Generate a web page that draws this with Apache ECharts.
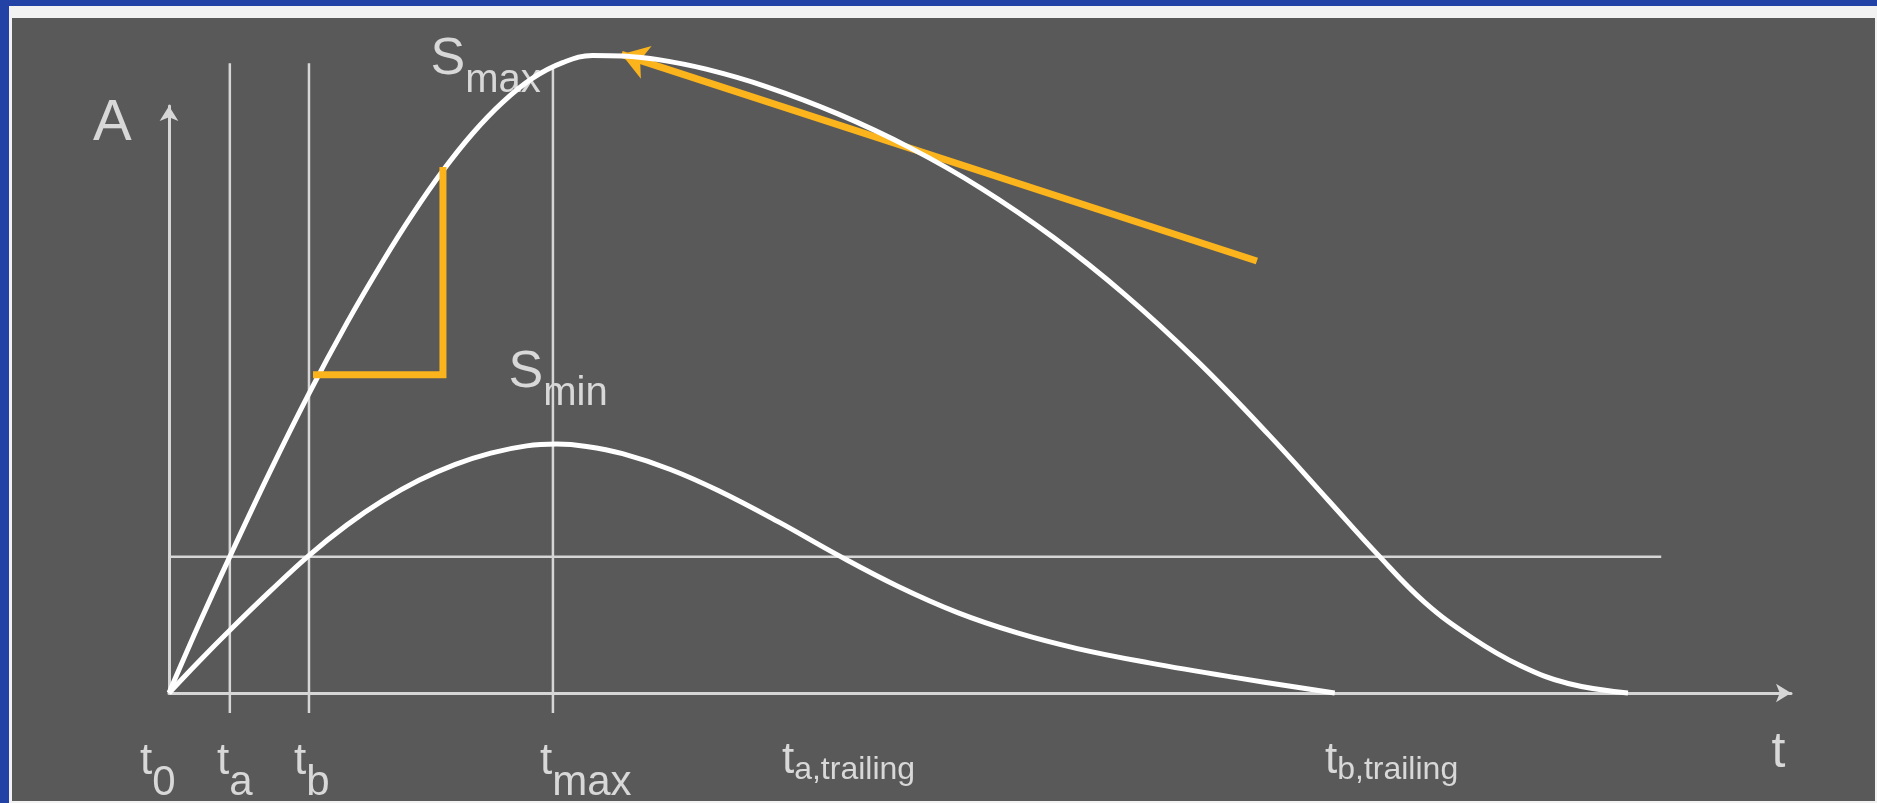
<!DOCTYPE html>
<html>
<head>
<meta charset="utf-8">
<title>Smax / Smin</title>
<script src="https://cdn.jsdelivr.net/npm/echarts@6/dist/echarts.min.js"></script>
<style>
  html, body { margin: 0; padding: 0; width: 1877px; height: 803px; overflow: hidden; background: #2242a6; }
  .sheet { position: absolute; left: 9px; top: 6px; right: 0; bottom: 0; background: #f2f2f2; }
  .panel { position: absolute; left: 12px; top: 18px; right: 2px; bottom: 2px; background: #595959; }
  #chart { position: absolute; left: 0; top: 0; width: 1877px; height: 803px; }
</style>
</head>
<body>
<div class="sheet"></div>
<div class="panel"></div>
<div id="chart"></div>
<script>
// curves, [t, A]
const sMaxCurve = [
  [0, 0], [1.83, 11.61], [3.75, 23.24], [6.19, 37.51], [8.62, 50.97], [10.98, 63.1],
  [13.2, 73.6], [15.04, 81.66], [16.89, 89.0], [18.73, 95.36], [20.58, 100.66],
  [22.42, 104.74], [24.27, 107.39], [26.11, 108.62], [27.96, 108.51], [30.17, 107.9],
  [33.12, 106.27], [36.81, 103.31], [41.24, 98.66], [45.67, 92.91], [50.1, 85.94],
  [54.52, 77.62], [58.95, 67.83], [63.38, 56.58], [67.81, 43.97], [71.5, 32.76],
  [74.45, 23.79], [77.4, 15.49], [80.35, 9.37], [83.3, 4.68], [86.26, 1.62], [89.95, 0]
];
const sMinCurve = [
  [0, 0], [1.83, 5.33], [3.75, 10.69], [6.19, 17.22], [8.62, 23.42], [10.98, 28.64],
  [13.2, 32.8], [15.41, 36.23], [17.62, 38.92], [19.84, 40.87], [22.05, 42.1],
  [23.9, 42.4], [25.74, 42.0], [27.96, 40.77], [30.91, 38.08], [33.86, 34.49],
  [37.55, 29.19], [41.24, 23.48], [44.93, 18.18], [48.62, 13.69], [52.31, 10.23],
  [56.0, 7.57], [60.43, 5.13], [65.59, 2.7], [71.87, 0]
];
// t_a, t_b, t_max guide lines
const markTimes = [3.75, 8.63, 23.67];
const markTops = [107.3, 107.3, 106.4];
const markBottom = -3.4;
// threshold line
const threshold = 23.2;
const thresholdEnd = 92;
// slope triangle + tangent arrow (orange)
const slopeStep = [[8.88, 54.2], [16.89, 54.2], [16.89, 89.6]];
const tangentArrow = [[67.07, 73.6], [27.9, 108.8]];
// labels
const labelMain = ['t', 't', 't', 't', 't', 't', 'S', 'S', 'A', 't'];
const labelSub = ['0', 'a', 'b', 'max', 'a,trailing', 'b,trailing', 'max', 'min', '', ''];
const labelAt = [
  [-1.79, -6.44], [2.96, -6.44], [7.71, -6.44], [22.87, -6.44],
  [37.79, -6.27], [71.27, -6.27], [16.12, 113.3], [20.93, 59.97],
  [-4.69, 103.6], [98.8, -5.23]
];

const font = '"Liberation Sans", Arial, sans-serif';
const lineColor = '#d6d6d6';
const orange = '#fbb41c';
const textColor = '#f7f7f7';

function labelFormat(i) {
  const m = labelMain[i];
  const s = labelSub[i];
  if (m === 'A') return '{A|A}';
  if (s === '') return '{T|t}';
  if (m === 'S') return '{sm|S}{ss|' + s + '}';
  if (s.length > 3) return '{tm|t}{tr|' + s + '}';
  return '{tm|t}{ts|' + s + '}';
}

function tok(size, padTop) {
  return { fontFamily: font, fontSize: size, color: textColor, verticalAlign: 'top', padding: [padTop, 0, 0, 0] };
}

const series = [];
markTimes.forEach((x, i) => {
  series.push({
    type: 'line', clip: false, silent: true, showSymbol: false,
    data: [[x, markBottom], [x, markTops[i]]],
    lineStyle: { color: lineColor, width: 2.5 }
  });
});
series.push({
  type: 'line', clip: false, silent: true, showSymbol: false,
  data: [[0, threshold], [thresholdEnd, threshold]],
  lineStyle: { color: lineColor, width: 2.5 }
});
series.push({
  type: 'line', clip: false, silent: true, showSymbol: false,
  data: sMinCurve, smooth: 0.4,
  lineStyle: { color: '#ffffff', width: 5 }
});
series.push({
  type: 'line', clip: false, silent: true, showSymbol: false,
  data: sMaxCurve, smooth: 0.4,
  lineStyle: { color: '#ffffff', width: 5 }
});
series.push({
  type: 'line', clip: false, silent: true, showSymbol: false,
  data: slopeStep,
  lineStyle: { color: orange, width: 7, join: 'miter', cap: 'butt' }
});
series.push({
  type: 'lines', coordinateSystem: 'cartesian2d', clip: false, silent: true,
  symbol: ['none', 'arrow'], symbolSize: [22, 26],
  data: [{ coords: tangentArrow }],
  lineStyle: { color: orange, width: 7, opacity: 1, curveness: 0 }
});
series.push({
  type: 'scatter', clip: false, silent: true, symbolSize: 0,
  data: labelMain.map((m, i) => ({ value: labelAt[i], label: { formatter: labelFormat(i) } })),
  label: {
    show: true, position: [0, 0], color: textColor,
    rich: {
      tm: tok(44, 9),
      ts: tok(42, 32),
      tr: tok(32, 24),
      sm: tok(52, 6),
      ss: tok(40, 33),
      A: tok(58, 10),
      T: tok(50, 5)
    }
  }
});

const axisCommon = {
  type: 'value', min: 0, max: 100,
  axisLine: {
    show: true, onZero: false, symbol: ['none', 'arrow'], symbolSize: [14, 15],
    lineStyle: { color: lineColor, width: 3 }
  },
  axisTick: { show: false },
  axisLabel: { show: false },
  splitLine: { show: false }
};

const chart = echarts.init(document.getElementById('chart'));
chart.setOption({
  animation: false,
  backgroundColor: 'transparent',
  grid: { left: 169, right: 86, top: 106, bottom: 110 },
  xAxis: axisCommon,
  yAxis: axisCommon,
  series: series
});
</script>
</body>
</html>
